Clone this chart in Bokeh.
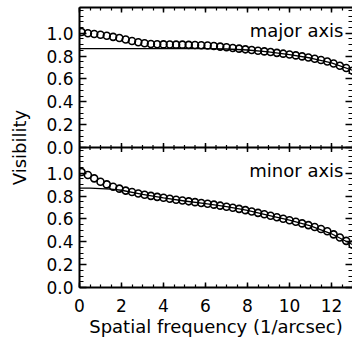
import math
import numpy as np
from bokeh.plotting import figure
from bokeh.models import LinearAxis, FixedTicker, Label, Range1d, Span
from bokeh.embed import file_html
from bokeh.resources import INLINE

# ---------------- data ----------------
freq = [0.1, 0.4, 0.7, 1.0, 1.3, 1.6, 1.9, 2.2, 2.5, 2.8, 3.1, 3.4, 3.7, 4.0,
        4.3, 4.6, 4.9, 5.2, 5.5, 5.8, 6.1, 6.4, 6.7, 7.0, 7.3, 7.6, 7.9, 8.2,
        8.5, 8.8, 9.1, 9.4, 9.7, 10.0, 10.3, 10.6, 10.9, 11.2, 11.5, 11.8,
        12.1, 12.4, 12.7, 13.0]

vis_major = [1.010, 1.000, 0.993, 0.987, 0.978, 0.968, 0.958, 0.945, 0.932,
             0.921, 0.912, 0.906, 0.903, 0.902, 0.901, 0.900, 0.900, 0.898,
             0.897, 0.895, 0.892, 0.888, 0.883, 0.877, 0.871, 0.865, 0.859,
             0.853, 0.847, 0.841, 0.835, 0.828, 0.821, 0.814, 0.806, 0.797,
             0.788, 0.777, 0.765, 0.752, 0.735, 0.715, 0.695, 0.672]

vis_minor = [1.010, 0.985, 0.955, 0.925, 0.902, 0.882, 0.865, 0.848, 0.835,
             0.823, 0.812, 0.802, 0.793, 0.785, 0.777, 0.768, 0.761, 0.754,
             0.747, 0.740, 0.733, 0.725, 0.716, 0.707, 0.698, 0.688, 0.677,
             0.665, 0.653, 0.641, 0.628, 0.615, 0.602, 0.589, 0.575, 0.561,
             0.546, 0.530, 0.512, 0.492, 0.465, 0.438, 0.408, 0.375]

model_major_x = [0, 1, 2, 3, 4, 5, 6, 7, 8, 9, 10, 11, 12, 13, 13.5]
model_major_y = [0.866, 0.866, 0.866, 0.866, 0.866, 0.866, 0.866, 0.862,
                 0.853, 0.836, 0.813, 0.783, 0.740, 0.675, 0.645]

model_minor_x = [0, 0.5, 1, 1.5, 2, 3, 4, 5, 6, 7, 8, 9, 10, 11, 12, 13, 13.5]
model_minor_y = [0.870, 0.869, 0.866, 0.860, 0.851, 0.815, 0.785, 0.757,
                 0.733, 0.707, 0.674, 0.632, 0.589, 0.540, 0.470, 0.375, 0.33]

panel_names = ["major axis", "minor axis"]

x_ticks = [0, 2, 4, 6, 8, 10, 12]
x_tick_labels = ["0", "2", "4", "6", "8", "10", "12"]
y_ticks = [0.0, 0.2, 0.4, 0.6, 0.8, 1.0]
y_tick_labels = ["0.0", "0.2", "0.4", "0.6", "0.8", "1.0"]

x_title = "Spatial frequency (1/arcsec)"
y_title = "Visibility"

# ---------------- style / layout ----------------
FONT = "DejaVu Sans"
X_END = 13.0           # visible part of the frequency axis
Y_END = 1.225          # top of each panel
PANEL_PX = 140
PX_PER_Y = PANEL_PX / Y_END

x_minor = [round(v, 2) for v in np.arange(0, 13.01, 0.5)]
y_minor = [round(v, 2) for v in np.arange(0, 1.201, 0.05)]

# lower panel on the default range, upper panel one panel height above it
y_major_pos = [round(v, 4) for v in y_ticks] + [round(v + Y_END, 4) for v in y_ticks]
y_major_lab = y_tick_labels + y_tick_labels
y_minor_pos = [round(v, 4) for v in y_minor] + [round(v + Y_END, 4) for v in y_minor]

p = figure(width=352, height=342,
           x_range=Range1d(0, X_END), y_range=Range1d(0, 2 * Y_END),
           output_backend="svg", toolbar_location=None,
           min_border_left=79, min_border_right=0, min_border_top=7,
           min_border_bottom=55)
p.extra_y_ranges = {"upper": Range1d(-Y_END, Y_END)}
p.xgrid.visible = False
p.ygrid.visible = False
p.outline_line_color = None
p.background_fill_color = "white"
p.border_fill_color = "white"
p.add_layout(LinearAxis(), "above")
p.add_layout(LinearAxis(), "right")


def style_axis(ax, ticks, minor, labels, major_len, minor_len, show_labels,
               show_line=True):
    ax.ticker = FixedTicker(ticks=ticks, minor_ticks=minor)
    ax.major_tick_in = major_len
    ax.major_tick_out = 0
    ax.minor_tick_in = minor_len
    ax.minor_tick_out = 0
    ax.axis_line_width = 2
    ax.axis_line_color = "black" if show_line else None
    ax.major_tick_line_color = "black"
    ax.minor_tick_line_color = "black"
    ax.major_tick_line_width = 1.5
    ax.minor_tick_line_width = 1.2
    if show_labels:
        ax.major_label_overrides = {t: l for t, l in zip(ticks, labels)}
        ax.major_label_text_font = FONT
        ax.major_label_text_font_size = "17px"
        ax.major_label_text_color = "black"
    else:
        ax.major_label_overrides = {t: "" for t in ticks}
        ax.major_label_text_font_size = "0px"
        ax.major_label_text_color = None
        ax.major_label_standoff = 0


left = p.left[0]
style_axis(left, y_major_pos, y_minor_pos, y_major_lab, 7, 4, True)
left.major_label_standoff = 6
left.axis_label = y_title
left.axis_label_text_font = FONT
left.axis_label_text_font_size = "18px"
left.axis_label_text_font_style = "normal"
left.axis_label_text_color = "black"
left.axis_label_standoff = 13

style_axis(p.right[0], y_major_pos, y_minor_pos, y_major_lab, 7, 4, False,
           show_line=False)
style_axis(p.above[0], x_ticks, x_minor, x_tick_labels, 5, 3, False)

below = p.below[0]
style_axis(below, x_ticks, x_minor, x_tick_labels, 5, 3, True)
below.major_label_standoff = 11
below.axis_label = x_title
below.axis_label_text_font = FONT
below.axis_label_text_font_size = "18px"
below.axis_label_text_font_style = "normal"
below.axis_label_text_color = "black"
below.axis_label_standoff = 1

# boundary between the two panels, with ticks on both sides
p.add_layout(Span(location=Y_END, dimension="width", line_color="black",
                  line_width=2))
d_major = 4.5 / PX_PER_Y
d_minor = 2.5 / PX_PER_Y
p.segment(x0=x_ticks, y0=[Y_END - d_major] * len(x_ticks),
          x1=x_ticks, y1=[Y_END + d_major] * len(x_ticks),
          line_color="black", line_width=1.5)
p.segment(x0=x_minor, y0=[Y_END - d_minor] * len(x_minor),
          x1=x_minor, y1=[Y_END + d_minor] * len(x_minor),
          line_color="black", line_width=1.2)

# lower panel: minor axis (default range)
p.line(model_minor_x, model_minor_y, line_color="black", line_width=1.3)
p.scatter(freq, vis_minor, marker="circle", size=7, fill_color=None,
          line_color="black", line_width=1.6)

# upper panel: major axis
p.line(model_major_x, model_major_y, line_color="black", line_width=1.3,
       y_range_name="upper")
p.scatter(freq, vis_major, marker="circle", size=7, fill_color=None,
          line_color="black", line_width=1.6, y_range_name="upper")

p.add_layout(Label(x=12.57, y=1.024, y_range_name="upper", text=panel_names[0],
                   text_align="right", text_baseline="alphabetic",
                   text_font=FONT, text_font_size="18px", text_color="black"))
p.add_layout(Label(x=12.57, y=1.024, text=panel_names[1],
                   text_align="right", text_baseline="alphabetic",
                   text_font=FONT, text_font_size="18px", text_color="black"))

open("out.html", "w").write(file_html(p, INLINE))
